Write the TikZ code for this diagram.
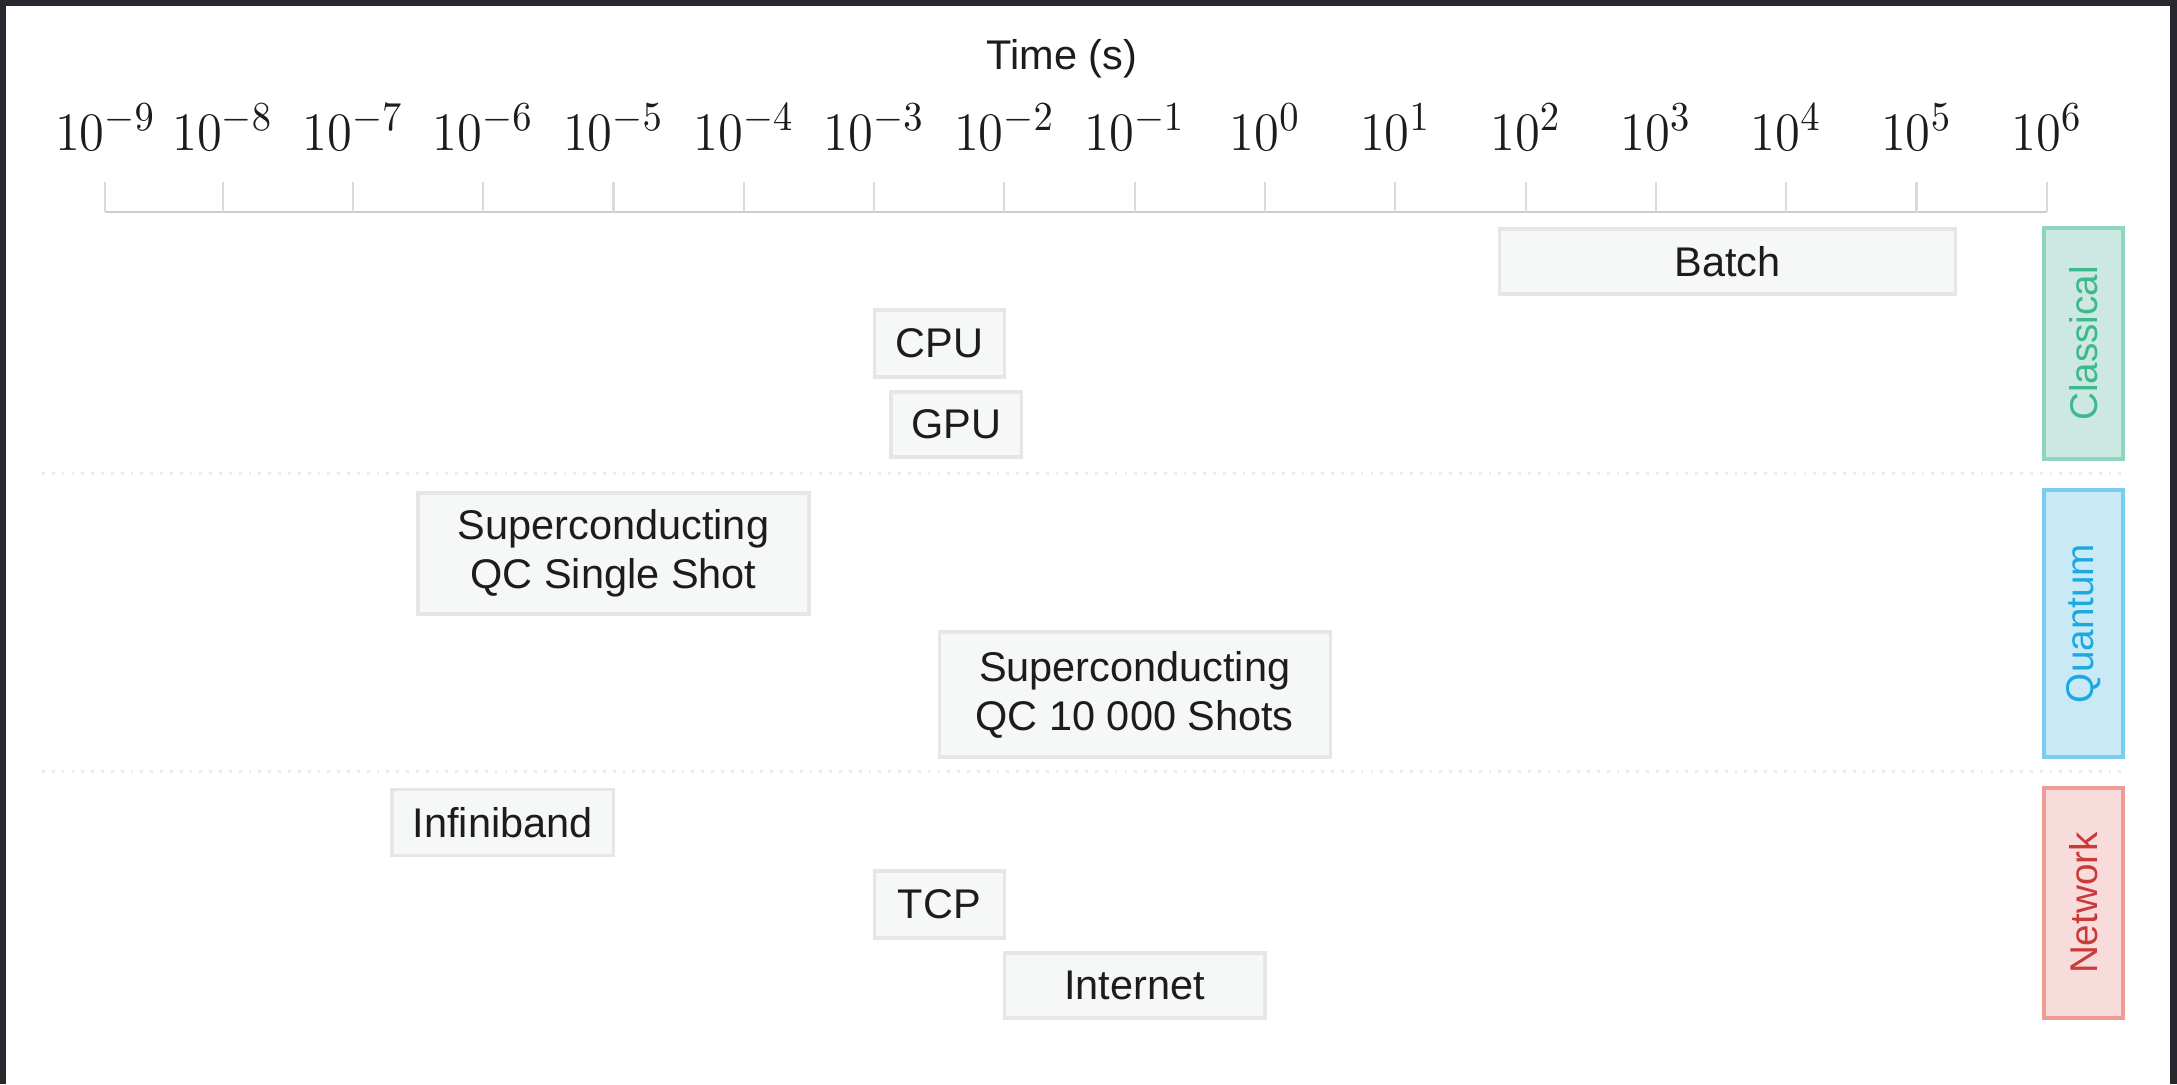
\documentclass[tikz,border=0pt]{standalone}
\usepackage{fontspec}
\setmainfont{Liberation Sans}
\usepackage{graphicx}
\usepackage{tikz}
\DeclareMathSizes{13.5}{13.5}{11}{8}
\definecolor{framedark}{RGB}{39,41,46}
\definecolor{ink}{RGB}{28,28,28}
\definecolor{boxfill}{RGB}{246,247,247}
\definecolor{boxline}{RGB}{232,229,226}
\definecolor{axisgray}{RGB}{204,204,204}
\definecolor{tickgray}{RGB}{218,218,218}
\definecolor{sepgray}{RGB}{236,236,236}
\definecolor{softteal}{RGB}{205,232,226}
\definecolor{lineteal}{RGB}{142,213,189}
\definecolor{inkteal}{RGB}{61,185,139}
\definecolor{softsky}{RGB}{201,233,246}
\definecolor{linesky}{RGB}{121,205,239}
\definecolor{inksky}{RGB}{28,168,224}
\definecolor{softrose}{RGB}{248,220,219}
\definecolor{linerose}{RGB}{239,156,150}
\definecolor{inkrose}{RGB}{201,59,59}

\begin{document}
\begin{tikzpicture}[
  x=1.303cm, y=1cm,
  tbox/.style={draw=boxline, line width=0.9pt, fill=boxfill, inner sep=0pt, align=center, text=ink, font=\fontsize{11.8}{13.9}\selectfont},
  catbox/.style={rotate=90, line width=0.9pt, inner sep=0pt, minimum height=0.79cm, font=\fontsize{11}{13}\selectfont},
  axisline/.style={axisgray, line width=0.8pt},
  axtick/.style={tickgray, line width=0.6pt},
  groupline/.style={sepgray, dotted, line width=0.8pt}
]
\useasboundingbox (-12.65cm,0cm) rectangle (9.12cm,-10.84cm);

% Frame
\fill[framedark] (-12.65cm,0cm) rectangle (9.12cm,-10.84cm);
\fill[white] (-12.59cm,-0.06cm) rectangle (9.05cm,-10.84cm);

% Time axis
\node[anchor=base, text=ink, font=\fontsize{11.8}{14}\selectfont] (title) at (-1.558,-0.69) {Time (s)};
\coordinate (axL) at (-8.9,-2.12);
\coordinate (axR) at (6,-2.12);
\draw[axisline] (axL) -- (axR);
\foreach \e in {-9,...,6}{
  \pgfmathsetmacro\p{max(\e,-8.9)}
  \draw[axtick] (\p,-2.12) -- (\p,-1.82);
  \node[anchor=base, text=ink, font=\fontsize{13.5}{16}\selectfont] (lab\e) at (\p,-1.50) {\scalebox{1}[1.07]{$10^{\e}$}};
}

% Time ranges
\foreach \nm/\a/\b/\y/\h/\txt in {
  batch/1.8/5.3/2.615/0.65/Batch,
  cpu/-3/-2/3.435/0.67/CPU,
  gpu/-2.87/-1.87/4.245/0.65/GPU,
  single/-6.5/-3.5/5.535/1.21/{Superconducting\\QC Single Shot},
  many/-2.5/0.5/6.945/1.25/{Superconducting\\QC 10 000 Shots},
  infini/-6.7/-5/8.225/0.66/Infiniband,
  tcp/-3/-2/9.045/0.67/TCP,
  inet/-2/0/9.855/0.65/Internet}{
  \pgfmathsetmacro\w{(\b-\a)*1.303}
  \node[tbox, minimum width=\w cm, minimum height=\h cm] (\nm) at ({(\a+\b)/2},-\y) {\txt};
}

% Group separators
\coordinate (s1L) at (-9.386,-4.735);
\coordinate (s1R) at (6.577,-4.735);
\coordinate (s2L) at (-9.386,-7.715);
\coordinate (s2R) at (6.577,-7.715);
\draw[groupline] (s1L) -- (s1R);
\draw[groupline] (s2L) -- (s2R);

% Category tags
\foreach \nm/\y/\len/\c/\txt in {classical/3.435/2.31/teal/Classical, quantum/6.235/2.67/sky/Quantum, network/9.03/2.30/rose/Network}
  \node[catbox, fill=soft\c, draw=line\c, text=ink\c, minimum width=\len cm] (\nm) at (6.2817,-\y) {\txt};

\end{tikzpicture}
\end{document}
